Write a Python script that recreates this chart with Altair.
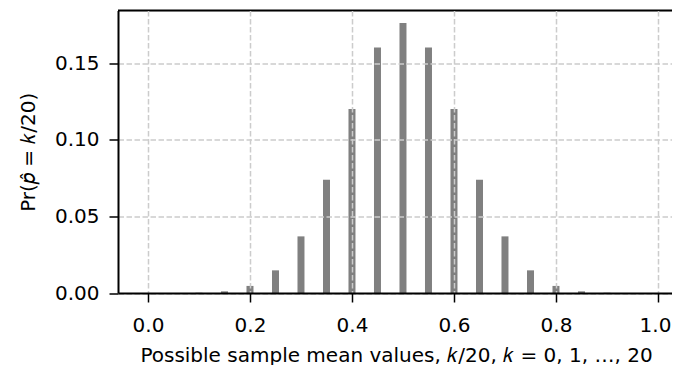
import altair as alt
import pandas as pd

# sample mean values k/20 and their probabilities Pr(p_hat = k/20)
k_over_n = [0.00, 0.05, 0.10, 0.15, 0.20, 0.25, 0.30, 0.35, 0.40, 0.45, 0.50,
            0.55, 0.60, 0.65, 0.70, 0.75, 0.80, 0.85, 0.90, 0.95, 1.00]
prob = [0.000001, 0.000019, 0.000181, 0.00109, 0.00462, 0.01479, 0.03696, 0.07393,
        0.12013, 0.16018, 0.17620, 0.16018, 0.12013, 0.07393, 0.03696, 0.01479,
        0.00462, 0.00109, 0.000181, 0.000019, 0.000001]
x_ticks = [0.0, 0.2, 0.4, 0.6, 0.8, 1.0]
y_ticks = [0.00, 0.05, 0.10, 0.15]

df = pd.DataFrame({"x": k_over_n, "p": prob})

W, H = 554, 282.5
FONT = "DejaVu Sans"
FS = 20

bars = alt.Chart(df).mark_bar(size=7, color="#808080").encode(
    x=alt.X("x:Q",
            scale=alt.Scale(domain=[-0.0588, 1.0275], nice=False, zero=False, padding=0),
            axis=alt.Axis(values=x_ticks, format=".1f", grid=True, zindex=1,
                          title="Possible sample mean values, 𝑘/20, 𝑘 = 0, 1, …, 20",
                          titleFontSize=FS, titleFont=FONT, titleFontWeight="normal",
                          titleColor="black", titlePadding=10, titleX=278,
                          labelFontSize=FS, labelFont=FONT, labelColor="black",
                          labelOffset={"condition": {"test": "datum.value == 1", "value": -3},
                                       "value": 0},
                          labelPadding=13, tickSize=9, tickWidth=1.5, tickColor="black",
                          domainColor="black", domainWidth=2,
                          gridColor="#cccccc", gridWidth=1.5, gridDash=[5.5, 2.5])),
    y=alt.Y("p:Q",
            scale=alt.Scale(domain=[0, 0.1844], nice=False, padding=0),
            axis=alt.Axis(values=y_ticks, format=".2f", grid=True, zindex=1,
                          title="Pr(𝑝̂ = 𝑘/20)",
                          titleFontSize=FS, titleFont=FONT, titleFontWeight="normal",
                          titleColor="black", titleX=-84, titleBaseline="alphabetic",
                          labelFontSize=FS, labelFont=FONT, labelColor="black",
                          labelPadding=10, tickSize=9, tickWidth=1.5, tickColor="black",
                          domainColor="black", domainWidth=2,
                          gridColor="#cccccc", gridWidth=1.5, gridDash=[5.5, 2.5])),
)

top_spine = alt.Chart(df).mark_rule(color="black", strokeWidth=2).encode(
    x=alt.value(0), x2=alt.value(W), y=alt.value(0)
).transform_filter("datum.x == 0")

chart = alt.layer(bars, top_spine).properties(
    width=W, height=H,
    padding={"left": 110, "top": 2.5, "right": 0, "bottom": 72},
    autosize=alt.AutoSizeParams(type="none"),
).configure_view(stroke=None).configure(background="white")

chart.save("out.html", embed_options={"renderer": "svg", "actions": False})
